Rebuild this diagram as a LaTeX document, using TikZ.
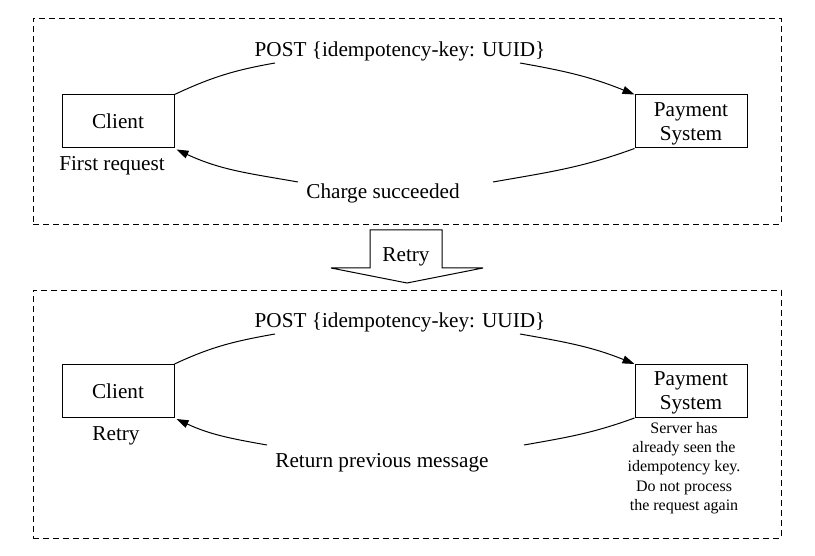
\documentclass[tikz,border=0pt]{standalone}
\usepackage{fontspec}
\setmainfont{Liberation Serif}
\usetikzlibrary{positioning, arrows.meta}

\begin{document}
\begin{tikzpicture}[
        x=1pt, y=1pt,
        font=\fontsize{21.2}{24}\selectfont,
        panel/.style={rectangle, draw, dashed, dash pattern=on 6pt off 4pt, line width=0.9pt, minimum width=748pt},
        box/.style={rectangle, draw, line width=1pt, minimum width=112pt, minimum height=53pt, align=center, inner sep=0pt, text depth=0pt},
        edgelabel/.style={inner sep=1pt},
        note/.style={font=\fontsize{16}{19.3}\selectfont, align=center, inner sep=0pt},
        line/.style={line width=1pt},
        conn/.style={line width=1pt, -{Triangle[length=12pt, width=8pt]}}
    ]
    \useasboundingbox (0,0) rectangle (815,555);

    % PRIMERA PETICION
    \node[panel, minimum height=206pt] (panel1) at (407,434) {};
    \node[box] (client1) at (118,433.5) {Client};
    \node[box] (pay1) at (691,433.5) {Payment\\System};
    \node[note, font=\fontsize{21.2}{24}\selectfont, below=8pt of client1, xshift=-6pt] (first) {First request};
    \node[edgelabel] (post1) at (400,504) {POST \{idempotency-key: UUID\}};
    \node[edgelabel] (ok1) at (383,362) {Charge succeeded};

    % REINTENTO
    \node (retry) at (406,298) {Retry};
    \draw[line] ([shift={(-36,27)}]retry.center) -- ([shift={(36,27)}]retry.center)
        -- ([shift={(36,-11)}]retry.center) -- ([shift={(77,-11)}]retry.center)
        -- ([shift={(1,-26)}]retry.center) -- ([shift={(-75,-11)}]retry.center)
        -- ([shift={(-36,-11)}]retry.center) -- cycle;

    % SEGUNDA PETICION
    \node[panel, minimum height=248pt] (panel2) at (407,141) {};
    \node[box] (client2) at (118,164) {Client};
    \node[box] (pay2) at (691,164) {Payment\\System};
    \node[note, font=\fontsize{21.2}{24}\selectfont, below=8pt of client2, xshift=-2pt] (again) {Retry};
    \node[note, below=4pt of pay2, xshift=-7pt] (seen) {Server has\\already seen the\\idempotency key.\\Do not process\\the request again};
    \node[edgelabel] (post2) at (400,233) {POST \{idempotency-key: UUID\}};
    \node[edgelabel] (prev2) at (382,92) {Return previous message};

    % Flechas de conexion
    \draw[line] (client1.north east) to[out=25, in=190] ([shift={(-125,-12)}]post1.center);
    \draw[conn] ([shift={(120,-12)}]post1.center) to[out=-10, in=158] (pay1.north west);
    \draw[line] (pay1.south west) to[out=200, in=10] ([shift={(110,11)}]ok1.center);
    \draw[conn] ([shift={(-85,11)}]ok1.center) to[out=170, in=-25] ([shift={(2,-1)}]client1.south east);

    \draw[line] (client2.north east) to[out=25, in=190] ([shift={(-125,-12)}]post2.center);
    \draw[conn] ([shift={(120,-12)}]post2.center) to[out=-10, in=158] (pay2.north west);
    \draw[line] (pay2.south west) to[out=200, in=10] ([shift={(142,18)}]prev2.center);
    \draw[conn] ([shift={(-115,18)}]prev2.center) to[out=170, in=-25] ([shift={(2,-1)}]client2.south east);
\end{tikzpicture}
\end{document}
